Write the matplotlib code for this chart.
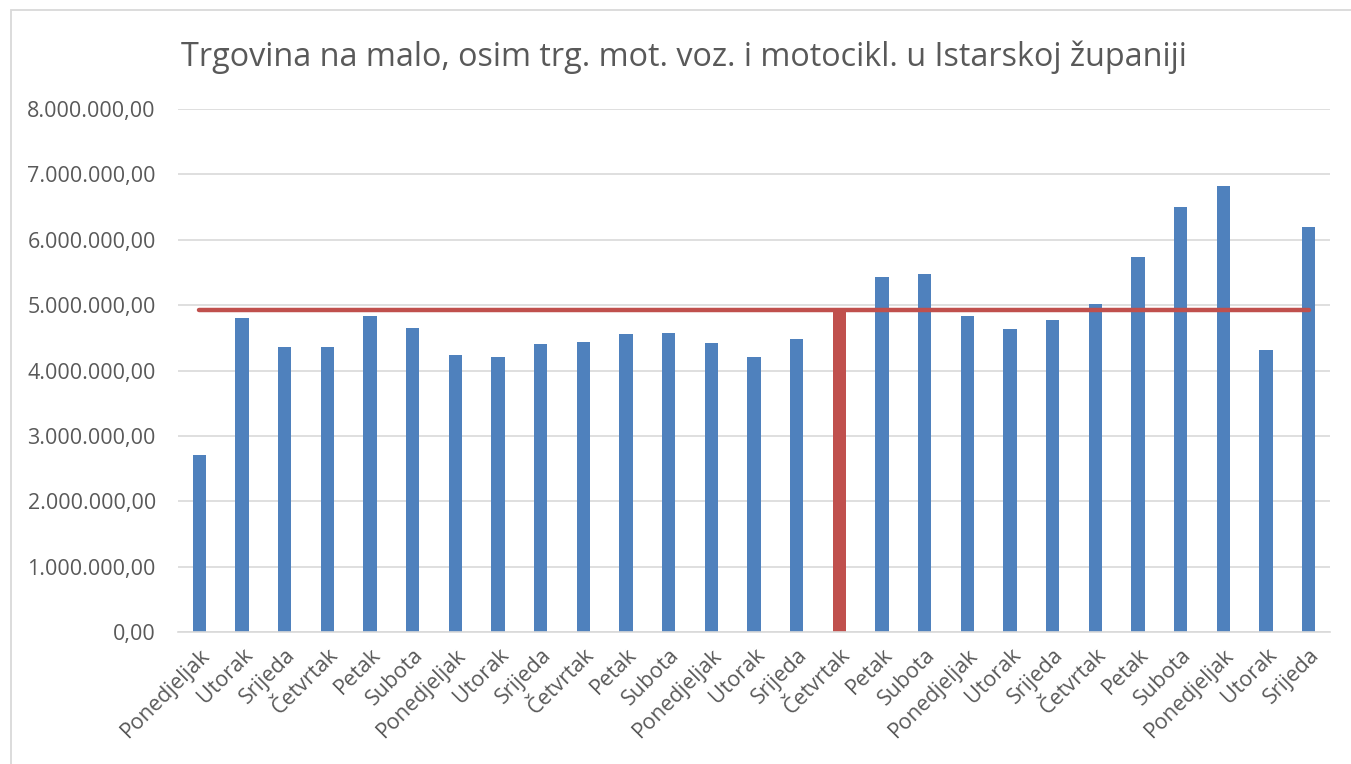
import matplotlib
matplotlib.use("Agg")
import matplotlib.pyplot as plt
from matplotlib.ticker import FuncFormatter, MultipleLocator
from matplotlib.patches import Rectangle

title = "Trgovina na malo, osim trg. mot. voz. i motocikl. u Istarskoj županiji"
days = ["Ponedjeljak", "Utorak", "Srijeda", "Četvrtak", "Petak", "Subota",
        "Ponedjeljak", "Utorak", "Srijeda", "Četvrtak", "Petak", "Subota",
        "Ponedjeljak", "Utorak", "Srijeda", "Četvrtak", "Petak", "Subota",
        "Ponedjeljak", "Utorak", "Srijeda", "Četvrtak", "Petak", "Subota",
        "Ponedjeljak", "Utorak", "Srijeda"]
values = [2710000, 4810000, 4360000, 4360000, 4840000, 4655000,
          4230000, 4210000, 4410000, 4430000, 4560000, 4580000,
          4420000, 4210000, 4480000, 4920000, 5430000, 5470000,
          4840000, 4630000, 4780000, 5020000, 5730000, 6500000,
          6830000, 4310000, 6200000]
highlight_index = 15
reference_level = 4920000

blue = "#4F81BD"
red = "#C0504D"
grey_text = "#595959"
font = "Open Sans"

fig = plt.figure(figsize=(13.51, 7.64), dpi=100)
ax = fig.add_axes([0.1318, 0.1728, 0.9845 - 0.1318, 0.8573 - 0.1728])

x = list(range(len(values)))
colors = [red if i == highlight_index else blue for i in x]
ax.bar(x, values, width=0.31, color=colors, zorder=2)
ax.plot([x[0], x[-1]], [reference_level, reference_level], color=red,
        linewidth=3.2, solid_capstyle="round", zorder=3)

ax.set_xlim(-0.5, len(values) - 0.5)
ax.set_ylim(0, 8000000)
ax.yaxis.set_major_locator(MultipleLocator(1000000))

def fmt(v, pos):
    s = f"{v:,.2f}"
    return s.replace(",", "X").replace(".", ",").replace("X", ".")

ax.yaxis.set_major_formatter(FuncFormatter(fmt))
ax.grid(axis="y", color="#D9D9D9", linewidth=1.2, zorder=0)
ax.set_axisbelow(True)
for s in ["top", "right", "left"]:
    ax.spines[s].set_visible(False)
ax.spines["bottom"].set_color("#D9D9D9")
ax.spines["bottom"].set_linewidth(1.2)
ax.tick_params(axis="both", length=0, colors=grey_text)
ax.tick_params(axis="y", pad=22)
ax.set_xticks(x)
ax.set_xticklabels(days, rotation=45, ha="right", rotation_mode="anchor",
                   fontsize=15.5, family=font, color=grey_text)
ax.tick_params(axis="x", pad=9)
ax.tick_params(axis="y", pad=16)
for lab in ax.get_yticklabels():
    lab.set_fontsize(15.5)
    lab.set_family(font)
    lab.set_color(grey_text)

fig.text(0.506, 0.925, title, ha="center", va="center", fontsize=23.3,
         family=font, color=grey_text)

fig.patches.append(Rectangle((0.0081, -0.1), 1.2, 1.0863,
                             transform=fig.transFigure, fill=False,
                             edgecolor="#D9D9D9", linewidth=1.3))

fig.savefig("out.png", dpi=100)
